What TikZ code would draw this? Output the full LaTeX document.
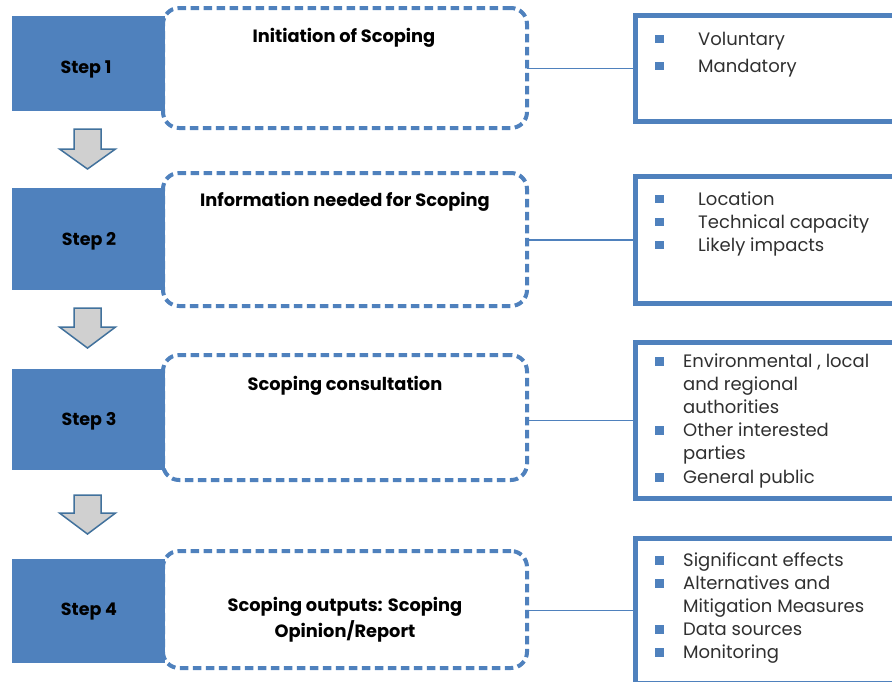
\documentclass[tikz,border=0pt]{standalone}
\usepackage{fontspec}
\setmainfont{Poppins}
\definecolor{stepblue}{HTML}{4F81BD}
\definecolor{arrowgray}{HTML}{D0D0D0}
\definecolor{arrowedge}{HTML}{41719C}
\definecolor{txtgray}{HTML}{303030}
\begin{document}
\begin{tikzpicture}[x=1pt,y=-1pt,
  stepbox/.style={fill=stepblue, draw=none, minimum width=153pt, inner sep=0pt, outer sep=0pt},
  dbox/.style={draw=stepblue, line width=4pt, dash pattern=on 8.5pt off 4.5pt, rounded corners=16pt, fill=white, minimum width=364pt, inner sep=0pt, outer sep=0pt},
  rbox/.style={draw=stepblue, line width=5pt, fill=white, minimum width=269.5pt, inner sep=0pt, outer sep=0pt},
  conn/.style={draw=stepblue, line width=1.5pt},
  arrowshape/.style={fill=arrowgray, draw=arrowedge, line width=1.5pt, line join=miter},
  steplabel/.style={anchor=base, font=\fontsize{17.5}{20}\selectfont\bfseries, text=black, inner sep=0pt},
  titletext/.style={anchor=base, font=\fontsize{17.8}{20}\selectfont\bfseries, text=black, inner sep=0pt},
  itemtext/.style={anchor=base west, font=\fontsize{18}{20}\selectfont, text=txtgray, inner sep=0pt},
  bullet/.style={fill=stepblue, minimum width=9pt, minimum height=8.5pt, inner sep=0pt, outer sep=0pt}
]
\useasboundingbox (0,0) rectangle (892,681);
\clip (0,0) rectangle (892,681);

% dashed title boxes
\node[dbox, minimum height=120pt] (d1) at (345,68) {};
\node[dbox, minimum height=133pt] (d2) at (345,239.5) {};
\node[dbox, minimum height=125pt] (d3) at (345,417.5) {};
\node[dbox, minimum height=117pt] (d4) at (345,609.5) {};

% step boxes
\node[stepbox, minimum height=95pt] (s1) at (88.5,63) {};
\node[stepbox, minimum height=102pt] (s2) at (88.5,239) {};
\node[stepbox, minimum height=101pt] (s3) at (88.5,419.5) {};
\node[stepbox, minimum height=104pt] (s4) at (88.5,611) {};

\node[steplabel] (l1) at (86,73.5) {Step 1};
\node[steplabel] (l2) at (89,245) {Step 2};
\node[steplabel] (l3) at (89,425.5) {Step 3};
\node[steplabel] (l4) at (89,615) {Step 4};

% titles
\node[titletext] (t1) at (344,42) {Initiation of Scoping};
\node[titletext] (t2) at (345,206.5) {Information needed for Scoping};
\node[titletext] (t3) at (345,390.5) {Scoping consultation};
\node[titletext] (t4a) at (345,611.5) {Scoping outputs: Scoping};
\node[titletext] (t4b) at (345,637.5) {Opinion/Report};

% right boxes
\node[rbox, minimum height=105.5pt] (r1) at (770.25,68.25) {};
\node[rbox, minimum height=127.5pt] (r2) at (770.25,239.75) {};
\node[rbox, minimum height=155.5pt] (r3) at (770.25,420.25) {};
\node[rbox, minimum height=145pt] (r4) at (770.25,610.5) {};

% connectors
\draw[conn] (d1.east |- r1.west) -- (r1.west);
\draw[conn] (d2.east |- r2.west) -- (r2.west);
\draw[conn] (d3.east |- r3.west) -- (r3.west);
\draw[conn] (d4.east |- r4.west) -- (r4.west);

% down arrows
\draw[arrowshape] (74,129) -- (101,129) -- (101,149) -- (115.5,149) -- (87.5,169) -- (59.5,149) -- (74,149) -- cycle;
\draw[arrowshape] (74,308) -- (101,308) -- (101,327) -- (115.5,327) -- (87.5,348) -- (59.5,327) -- (74,327) -- cycle;
\draw[arrowshape] (74,495) -- (101,495) -- (101,513) -- (115.5,513) -- (87.5,534) -- (59.5,513) -- (74,513) -- cycle;

% box 1 items
\node[bullet] (b11) at (659,39) {};
\node[bullet] (b12) at (659,66) {};
\node[itemtext] (i11) at (698,45) {Voluntary};
\node[itemtext] (i12) at (698,72) {Mandatory};

% box 2 items
\node[bullet] (b21) at (659,199) {};
\node[bullet] (b22) at (659,222) {};
\node[bullet] (b23) at (659,245) {};
\node[itemtext] (i21) at (698,205) {Location};
\node[itemtext] (i22) at (698,228) {Technical capacity};
\node[itemtext] (i23) at (698,251) {Likely impacts};

% box 3 items
\node[bullet] (b31) at (659,361.5) {};
\node[bullet] (b32) at (659,430.5) {};
\node[bullet] (b33) at (659,477.5) {};
\node[itemtext] (i31) at (683,367) {Environmental , local};
\node[itemtext] (i32) at (683,390) {and regional};
\node[itemtext] (i33) at (683,413) {authorities};
\node[itemtext] (i34) at (683,436) {Other interested};
\node[itemtext] (i35) at (683,459) {parties};
\node[itemtext] (i36) at (683,483) {General public};

% box 4 items
\node[bullet] (b41) at (659,560.5) {};
\node[bullet] (b42) at (659,583.5) {};
\node[bullet] (b43) at (659,629.5) {};
\node[bullet] (b44) at (659,652.5) {};
\node[itemtext] (i41) at (683,566) {Significant effects};
\node[itemtext] (i42) at (683,589) {Alternatives and};
\node[itemtext] (i43) at (683,612) {Mitigation Measures};
\node[itemtext] (i44) at (683,635) {Data sources};
\node[itemtext] (i45) at (683,658) {Monitoring};
\end{tikzpicture}
\end{document}
